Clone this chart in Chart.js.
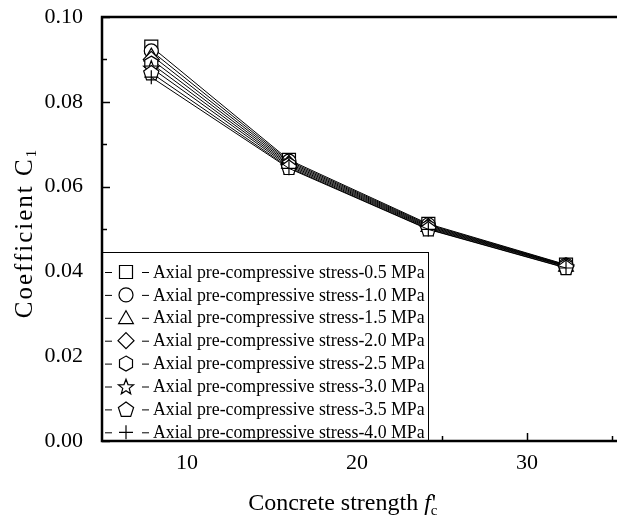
<!DOCTYPE html>
<html>
<head>
<meta charset="utf-8">
<script src="https://cdn.jsdelivr.net/npm/chart.js@4"></script>
<style>
  html, body { margin: 0; padding: 0; background: #fff; }
  #wrap { width: 617px; height: 520px; }
</style>
</head>
<body>
<div id="wrap"><canvas id="c1-chart" width="617" height="520"></canvas></div>
<script>
// concrete strength (x) and coefficient C1 for each axial pre-compressive stress
const fcValues = [7.9, 16.0, 24.2, 32.3];
const stressLabels = ['0.5', '1.0', '1.5', '2.0', '2.5', '3.0', '3.5', '4.0'];
const c1_s05 = [0.0930, 0.0663, 0.0512, 0.0416];
const c1_s10 = [0.0920, 0.0660, 0.0510, 0.0415];
const c1_s15 = [0.0910, 0.0657, 0.0508, 0.0414];
const c1_s20 = [0.0900, 0.0654, 0.0506, 0.0413];
const c1_s25 = [0.0890, 0.0651, 0.0504, 0.0412];
const c1_s30 = [0.0880, 0.0648, 0.0502, 0.0411];
const c1_s35 = [0.0868, 0.0645, 0.0500, 0.0409];
const c1_s40 = [0.0858, 0.0643, 0.0499, 0.0408];
const seriesValues = [c1_s05, c1_s10, c1_s15, c1_s20, c1_s25, c1_s30, c1_s35, c1_s40];
const markerStyles = ['square', 'circle', 'triangle', 'diamond', 'hexagon', 'star', 'pentagon', 'cross'];
const xTicks = [5, 10, 15, 20, 25, 30, 35];
const yTicks = [0, 0.01, 0.02, 0.03, 0.04, 0.05, 0.06, 0.07, 0.08, 0.09, 0.10];

const serif = "'Liberation Serif', 'Times New Roman', serif";

function polygonPath(ctx, cx, cy, r, n, rot) {
    ctx.beginPath();
    for (let i = 0; i < n; i++) {
        const a = rot + i * 2 * Math.PI / n;
        const px = cx + r * Math.cos(a), py = cy + r * Math.sin(a);
        if (i === 0) ctx.moveTo(px, py); else ctx.lineTo(px, py);
    }
    ctx.closePath();
}

function drawMarker(ctx, style, cx, cy) {
    ctx.save();
    ctx.strokeStyle = '#000';
    ctx.fillStyle = '#fff';
    ctx.lineWidth = 1.2;
    switch (style) {
        case 'square':
            ctx.beginPath();
            ctx.rect(cx - 6.5, cy - 6.5, 13, 13);
            break;
        case 'circle':
            ctx.beginPath();
            ctx.arc(cx, cy, 7, 0, Math.PI * 2);
            break;
        case 'triangle':
            polygonPath(ctx, cx, cy + 1.5, 8.5, 3, -Math.PI / 2);
            break;
        case 'diamond':
            polygonPath(ctx, cx, cy, 8, 4, -Math.PI / 2);
            break;
        case 'hexagon':
            polygonPath(ctx, cx, cy, 7.5, 6, -Math.PI / 2);
            break;
        case 'pentagon':
            polygonPath(ctx, cx, cy + 0.5, 8, 5, -Math.PI / 2);
            break;
        case 'star':
            ctx.beginPath();
            for (let i = 0; i < 10; i++) {
                const r = i % 2 === 0 ? 8 : 3.4;
                const a = -Math.PI / 2 + i * Math.PI / 5;
                const px = cx + r * Math.cos(a), py = cy + 0.8 + r * Math.sin(a);
                if (i === 0) ctx.moveTo(px, py); else ctx.lineTo(px, py);
            }
            ctx.closePath();
            break;
        case 'cross':
            ctx.beginPath();
            ctx.moveTo(cx - 7, cy); ctx.lineTo(cx + 7, cy);
            ctx.moveTo(cx, cy - 7); ctx.lineTo(cx, cy + 7);
            ctx.stroke();
            ctx.restore();
            return;
    }
    ctx.fill();
    ctx.stroke();
    ctx.restore();
}

// hollow markers drawn right after each series' line, at the library's point positions
const markerPlugin = {
    id: 'markerPlugin',
    afterDatasetDraw(chart, args) {
        const style = markerStyles[args.index];
        args.meta.data.forEach(pt => drawMarker(chart.ctx, style, pt.x, pt.y));
    }
};

// axes, inward ticks, top frame, legend and the axis titles
const framePlugin = {
    id: 'framePlugin',
    afterDraw(chart) {
        const { ctx, chartArea: a, scales: { x, y } } = chart;
        ctx.save();
        ctx.strokeStyle = '#000';

        // inward ticks
        ctx.lineWidth = 1.5;
        yTicks.forEach((v, i) => {
            const py = Math.round(y.getPixelForValue(v)) + 0.5;
            const len = i % 2 === 0 ? 8 : 5;
            ctx.beginPath(); ctx.moveTo(a.left, py); ctx.lineTo(a.left + len, py); ctx.stroke();
        });
        xTicks.forEach(v => {
            const px = Math.round(x.getPixelForValue(v)) + 0.5;
            const len = v % 10 === 0 ? 8 : 5;
            ctx.beginPath(); ctx.moveTo(px, a.bottom); ctx.lineTo(px, a.bottom - len); ctx.stroke();
        });

        // legend
        const lx = a.left, ly = 252, lw = 326, rowH = 22.9;
        ctx.fillStyle = '#fff';
        ctx.fillRect(lx, ly, lw, a.bottom - ly);
        ctx.lineWidth = 1;
        ctx.strokeRect(lx + 0.5, ly + 0.5, lw, a.bottom - ly);
        ctx.font = '17.8px ' + serif;
        ctx.textBaseline = 'middle';
        ctx.fillStyle = '#000';
        stressLabels.forEach((s, i) => {
            const cy = ly + 20 + i * rowH;
            ctx.beginPath();
            ctx.moveTo(lx + 3, cy + 0.5); ctx.lineTo(lx + 10, cy + 0.5);
            ctx.moveTo(lx + 40, cy + 0.5); ctx.lineTo(lx + 47, cy + 0.5);
            ctx.stroke();
            drawMarker(ctx, markerStyles[i], lx + 24, cy);
            ctx.fillText('Axial pre-compressive stress-' + s + ' MPa', lx + 51, cy + 1);
        });

        // axis lines and top frame
        ctx.lineWidth = 2.5;
        ctx.beginPath();
        ctx.moveTo(a.left, a.top); ctx.lineTo(a.left, a.bottom + 1.2);
        ctx.moveTo(a.left - 1.2, a.bottom); ctx.lineTo(a.right, a.bottom);
        ctx.moveTo(a.left - 1.2, a.top); ctx.lineTo(a.right, a.top);
        ctx.stroke();

        // x title: Concrete strength f_c'
        ctx.textBaseline = 'alphabetic';
        ctx.textAlign = 'left';
        const big = '24px ' + serif, ital = 'italic 24px ' + serif, small = '15px ' + serif;
        const t1 = 'Concrete strength ';
        ctx.font = big; const w1 = ctx.measureText(t1).width;
        ctx.font = ital; const wf = ctx.measureText('f').width;
        ctx.font = small; const wc = ctx.measureText('c').width;
        ctx.font = big; const wq = ctx.measureText("'").width;
        const total = w1 + wf + wc + wq;
        let tx = 345 - total / 2;
        const base = 510;
        ctx.font = big; ctx.fillText(t1, tx, base); tx += w1;
        ctx.font = ital; ctx.fillText('f', tx, base); tx += wf;
        ctx.font = small; ctx.fillText('c', tx, base + 5);
        ctx.font = big; ctx.fillText("'", tx + 1, base);

        // y title: Coefficient C_1 (rotated)
        ctx.translate(25, 233);
        ctx.rotate(-Math.PI / 2);
        const t2 = 'Coefficient C';
        ctx.letterSpacing = '2px';
        ctx.font = '25px ' + serif; const w2 = ctx.measureText(t2).width;
        ctx.font = small; const w3 = ctx.measureText('1').width;
        let sx = -(w2 + w3) / 2;
        ctx.textBaseline = 'middle';
        ctx.font = '25px ' + serif; ctx.fillText(t2, sx, 0);
        ctx.font = small; ctx.fillText('1', sx + w2, 7);
        ctx.restore();
    }
};

document.addEventListener('DOMContentLoaded', () => {
    const ctx = document.getElementById('c1-chart').getContext('2d');

    const datasets = seriesValues.map((vals, i) => ({
        label: 'Axial pre-compressive stress-' + stressLabels[i] + ' MPa',
        data: vals.map((v, j) => ({ x: fcValues[j], y: v })),
        borderColor: '#000',
        backgroundColor: '#fff',
        borderWidth: 1,
        pointRadius: 0,
        order: seriesValues.length - 1 - i,
        tension: 0
    }));

    new Chart(ctx, {
        type: 'line',
        data: { datasets: datasets },
        options: {
            responsive: false,
            animation: false,
            layout: { padding: { top: 17, right: 0, left: 0, bottom: 0 } },
            plugins: {
                legend: { display: false },
                tooltip: { enabled: false }
            },
            scales: {
                x: {
                    type: 'linear',
                    min: 5,
                    max: 35.3,
                    afterBuildTicks: s => { s.ticks = xTicks.map(v => ({ value: v })); },
                    afterFit: s => { s.height = 79; s.paddingLeft = 0; s.paddingRight = 0; },
                    ticks: {
                        callback: v => (v % 10 === 0 ? String(v) : ''),
                        color: '#000',
                        font: { family: serif, size: 22 },
                        padding: 9,
                        maxRotation: 0,
                        autoSkip: false
                    },
                    grid: { display: false, drawTicks: false },
                    border: { display: false }
                },
                y: {
                    type: 'linear',
                    min: 0,
                    max: 0.1,
                    afterBuildTicks: s => { s.ticks = yTicks.map(v => ({ value: v })); },
                    afterFit: s => { s.width = 102; s.paddingTop = 0; s.paddingBottom = 0; },
                    ticks: {
                        callback: v => (Math.round(v * 100) % 2 === 0 ? v.toFixed(2) : ''),
                        color: '#000',
                        font: { family: serif, size: 22 },
                        padding: 19,
                        autoSkip: false
                    },
                    grid: { display: false, drawTicks: false },
                    border: { display: false }
                }
            }
        },
        plugins: [markerPlugin, framePlugin]
    });
});
</script>
</body>
</html>
